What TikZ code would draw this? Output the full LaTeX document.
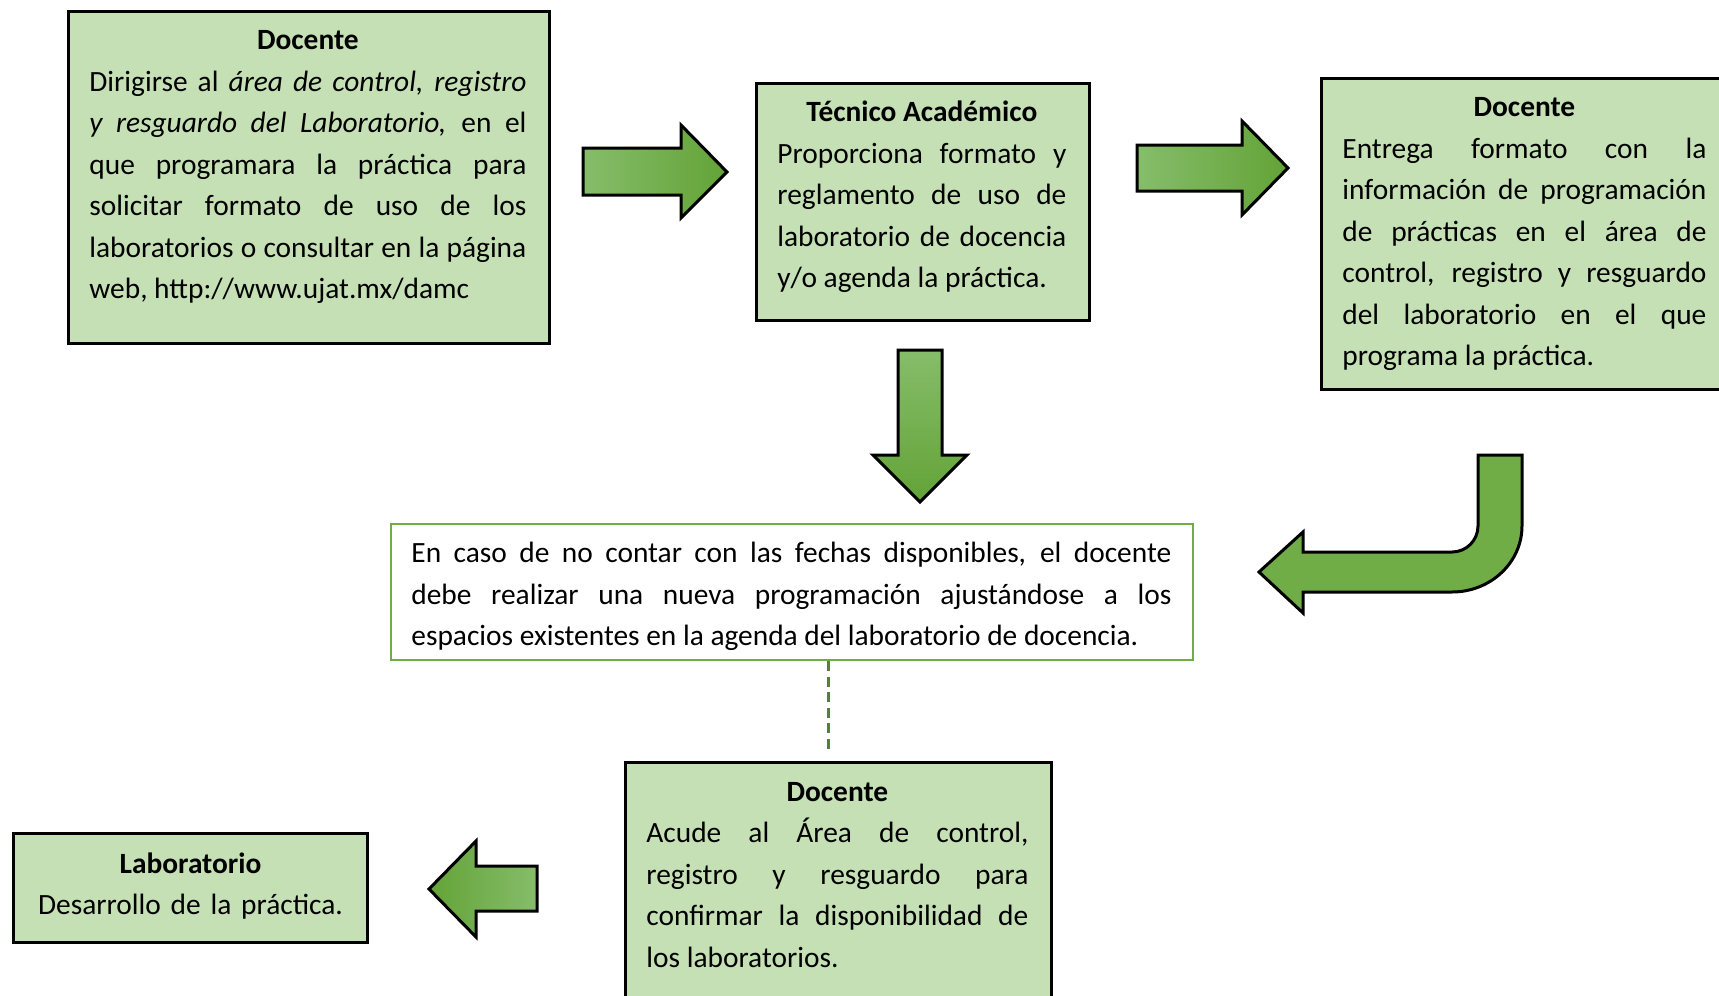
\documentclass[tikz,border=0pt]{standalone}
\usepackage{fontspec}
\setmainfont{Carlito}
\usetikzlibrary{positioning}

\definecolor{cajaverde}{HTML}{C5E0B4}
\definecolor{bordeverde}{HTML}{70AD47}
\definecolor{guionverde}{HTML}{548235}
\definecolor{flechaclara}{HTML}{86BD6A}
\definecolor{flechaoscura}{HTML}{63A337}

\tolerance=10000
\hbadness=10000

\newcommand{\titulo}[1]{\makebox[\linewidth]{\strut\textbf{#1}}\par}

\tikzset{
	caja/.style={draw=black, line width=1.5pt, fill=cajaverde, anchor=north west, inner sep=0pt},
	cajanota/.style={draw=bordeverde, line width=1pt, fill=white, anchor=north west, inner sep=0pt},
	texto/.style={inner sep=0pt, text width=#1, align=justify, font=\fontsize{14.7}{20.75}\selectfont},
	flecha/.style={draw=black, line width=1.5pt, line join=miter},
}

\begin{document}
\begin{tikzpicture}[x=0.5pt, y=-0.5pt]
	\useasboundingbox (0,0) rectangle (1719,996);

	% cajas
	\node[caja, minimum width=240.5pt, minimum height=166pt] (doc1) at (67,10) {};
	\node[caja, minimum width=166.5pt, minimum height=118.5pt] (tec) at (755,82) {};
	\node[caja, minimum width=210pt, minimum height=155.5pt] (doc2) at (1320,77) {};
	\node[cajanota, minimum width=401pt, minimum height=68pt] (aviso) at (390,523) {};
	\node[caja, minimum width=213pt, minimum height=124.5pt] (doc3) at (624,761) {};
	\node[caja, minimum width=177pt, minimum height=54.5pt] (lab) at (12,832) {};

	% textos
	\node[texto=218.5pt, below right=5.1pt and 11pt of doc1.north west] (doc1txt) {%
		\titulo{Docente}
		Dirigirse al \textit{área de control, registro}\linebreak
		\textit{y resguardo del Laboratorio,} en el\linebreak
		que programara la práctica para\linebreak
		solicitar formato de uso de los\linebreak
		laboratorios o consultar en la página\linebreak
		web, http://www.ujat.mx/damc};
	\node[texto=144.5pt, below right=5.1pt and 11pt of tec.north west] (tectxt) {%
		\titulo{Técnico Académico}
		Proporciona formato y\linebreak
		reglamento de uso de\linebreak
		laboratorio de docencia\linebreak
		y/o agenda la práctica.};
	\node[texto=182pt, below right=5.1pt and 11pt of doc2.north west] (doc2txt) {%
		\titulo{Docente}
		Entrega formato con la\linebreak
		información de programación\linebreak
		de prácticas en el área de\linebreak
		control, registro y resguardo\linebreak
		del laboratorio en el que\linebreak
		programa la práctica.};
	\node[texto=380pt, below right=5.1pt and 10.5pt of aviso.north west] (avisotxt) {%
		\strut En caso de no contar con las fechas disponibles, el docente\linebreak
		debe realizar una nueva programación ajustándose a los\linebreak
		espacios existentes en la agenda del laboratorio de docencia.};
	\node[texto=191pt, below right=5.3pt and 11pt of doc3.north west] (doc3txt) {%
		\titulo{Docente}
		Acude al Área de control,\linebreak
		registro y resguardo para\linebreak
		confirmar la disponibilidad de\linebreak
		los laboratorios.};
	\node[texto=170pt, align=center, below=5.9pt of lab.north] (labtxt) {%
		\strut\textbf{Laboratorio}\\
		Desarrollo de la práctica.};

	% flechas
	\draw[flecha, left color=flechaclara, right color=flechaoscura]
		(583,148) -- (681,148) -- (681,125) -- (727,172) -- (681,218) -- (681,195) -- (583,195) -- cycle;
	\draw[flecha, left color=flechaclara, right color=flechaoscura]
		(1137,145) -- (1242,145) -- (1242,121) -- (1288,168) -- (1242,215) -- (1242,191) -- (1137,191) -- cycle;
	\draw[flecha, top color=flechaclara, bottom color=flechaoscura]
		(898,350) -- (942,350) -- (942,455) -- (967,455) -- (920,502) -- (873,455) -- (898,455) -- cycle;
	\draw[flecha, left color=flechaoscura, right color=flechaclara]
		(537,866) -- (476,866) -- (476,841) -- (429,889) -- (476,937) -- (476,911) -- (537,911) -- cycle;
	\draw[flecha, fill=bordeverde]
		(1478,455) -- (1522,455) -- (1522,526)
		arc[start angle=0, end angle=-90, x radius=35pt, y radius=33pt]
		-- (1303,592) -- (1303,613) -- (1259,572) -- (1303,532) -- (1303,552) -- (1452,552)
		arc[start angle=-90, end angle=0, radius=13pt] -- cycle;

	% union punteada
	\coordinate (guia) at (828,752);
	\draw[guionverde, line width=1.5pt, dash pattern=on 5pt off 2.8pt] (aviso.south -| guia) -- (guia);
\end{tikzpicture}
\end{document}
